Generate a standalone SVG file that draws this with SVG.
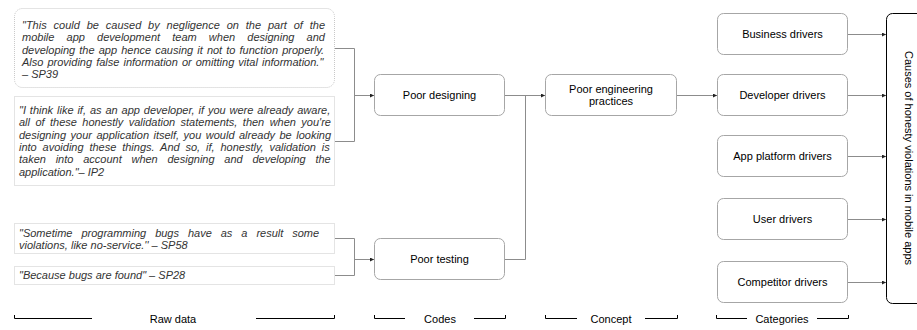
<svg xmlns="http://www.w3.org/2000/svg" width="917" height="330" viewBox="0 0 917 330">
<defs>
<style>
.quote{fill:#fff;stroke:#c8c8c8;stroke-width:1;stroke-dasharray:1 1}
.qt{font-family:"Liberation Sans",Arial,sans-serif;font-size:11px;font-style:italic;fill:#333}
.node{fill:#fff;stroke:#a6a6a6;stroke-width:1}
.nt{font-family:"Liberation Sans",Arial,sans-serif;font-size:11px;fill:#000;text-anchor:middle}
.conn{fill:none;stroke:#8c8c8c;stroke-width:1}
.brk{fill:none;stroke:#000;stroke-width:1}
.lbl{font-family:"Liberation Sans",Arial,sans-serif;font-size:11px;fill:#000;text-anchor:middle}
</style>
<marker id="arr" viewBox="0 0 6 6" refX="6" refY="3" markerWidth="4" markerHeight="4" markerUnits="userSpaceOnUse" orient="auto">
<path d="M0,0 L6,3 L0,6 z" fill="#222"/>
</marker>
</defs>
<rect width="917" height="330" fill="#fff"/>

<g id="q1">
<rect class="quote" x="14.5" y="8.5" width="320" height="79" rx="8"/>
<text class="qt">
<tspan x="22" y="29" style="word-spacing:3.8px">"This could be caused by negligence on the part of the</tspan>
<tspan x="22" y="41.3" style="word-spacing:9.1px">mobile app development team when designing and</tspan>
<tspan x="22" y="53.6" style="word-spacing:1.05px">developing the app hence causing it not to function properly.</tspan>
<tspan x="22" y="65.9" style="word-spacing:1px">Also providing false information or omitting vital information."</tspan>
<tspan x="22" y="78.2">– SP39</tspan>
</text>
</g>

<g id="q2">
<rect class="quote" x="14.5" y="96.5" width="320" height="89"/>
<text class="qt">
<tspan x="19" y="114" style="word-spacing:0.85px">"I think like if, as an app developer, if you were already aware,</tspan>
<tspan x="19" y="126.3" style="word-spacing:2.35px">all of these honestly validation statements, then when you're</tspan>
<tspan x="19" y="138.6" style="word-spacing:1.4px">designing your application itself, you would already be looking</tspan>
<tspan x="19" y="150.9" style="word-spacing:2.8px">into avoiding these things. And so, if, honestly, validation is</tspan>
<tspan x="19" y="163.2" style="word-spacing:6.7px">taken into account when designing and developing the</tspan>
<tspan x="19" y="175.5">application."– IP2</tspan>
</text>
</g>

<g id="q3">
<rect class="quote" x="14.5" y="223.5" width="320" height="30"/>
<text class="qt">
<tspan x="19" y="237" style="word-spacing:5.9px">"Sometime programming bugs have as a result some</tspan>
<tspan x="19" y="249.3">violations, like no-service.'' – SP58</tspan>
</text>
</g>

<g id="q4">
<rect class="quote" x="14.5" y="266.5" width="320" height="18"/>
<text class="qt" x="19" y="279">"Because bugs are found" – SP28</text>
</g>

<g id="poor-designing">
<rect class="node" x="374.5" y="74.5" width="130" height="41" rx="6"/>
<text class="nt" x="439.5" y="99">Poor designing</text>
</g>

<g id="poor-testing">
<rect class="node" x="374.5" y="238.5" width="130" height="41" rx="6"/>
<text class="nt" x="439.5" y="263">Poor testing</text>
</g>

<g id="poor-engineering">
<rect class="node" x="545.5" y="74.5" width="131" height="41" rx="6"/>
<text class="nt"><tspan x="611" y="93">Poor engineering</tspan><tspan x="611" y="104.5">practices</tspan></text>
</g>

<g id="business">
<rect class="node" x="717.5" y="13.5" width="130" height="41" rx="6"/>
<text class="nt" x="782.5" y="38">Business drivers</text>
</g>
<g id="developer">
<rect class="node" x="717.5" y="74.5" width="130" height="41" rx="6"/>
<text class="nt" x="782.5" y="99">Developer drivers</text>
</g>
<g id="app-platform">
<rect class="node" x="717.5" y="135.5" width="130" height="41" rx="6"/>
<text class="nt" x="782.5" y="160">App platform drivers</text>
</g>
<g id="user">
<rect class="node" x="717.5" y="198.5" width="130" height="41" rx="6"/>
<text class="nt" x="782.5" y="223">User drivers</text>
</g>
<g id="competitor">
<rect class="node" x="717.5" y="261.5" width="130" height="41" rx="6"/>
<text class="nt" x="782.5" y="286">Competitor drivers</text>
</g>

<g id="causes">
<rect x="886.5" y="13.5" width="60" height="290" rx="6" fill="#fff" stroke="#000" stroke-width="1"/>
<text class="nt" transform="translate(904.5,158) rotate(90)" x="0" y="0">Causes of honesty violations in mobile apps</text>
</g>

<g id="connectors">
<path class="conn" d="M335,48.5 H354.5 V141.5 H335"/>
<path class="conn" d="M354.5,95.5 H374" marker-end="url(#arr)"/>
<path class="conn" d="M335,238.5 H354.5 V275.5 H335"/>
<path class="conn" d="M354.5,259.5 H374" marker-end="url(#arr)"/>
<path class="conn" d="M505,95.5 H545" marker-end="url(#arr)"/>
<path class="conn" d="M505,259.5 H525.5 V95.5"/>
<path class="conn" d="M677,95.5 H717" marker-end="url(#arr)"/>
<path class="conn" d="M848,34.5 H886" marker-end="url(#arr)"/>
<path class="conn" d="M848,95.5 H886" marker-end="url(#arr)"/>
<path class="conn" d="M848,156.5 H886" marker-end="url(#arr)"/>
<path class="conn" d="M848,219.5 H886" marker-end="url(#arr)"/>
<path class="conn" d="M848,282.5 H886" marker-end="url(#arr)"/>
</g>

<g id="legend">
<path class="brk" d="M14.5,315 V318.5 H92"/>
<path class="brk" d="M256,318.5 H334.5 V315"/>
<text class="lbl" x="173" y="322.5">Raw data</text>
<path class="brk" d="M374.5,315 V318.5 H405"/>
<path class="brk" d="M474,318.5 H505.5 V315"/>
<text class="lbl" x="440" y="322.5">Codes</text>
<path class="brk" d="M545.5,315 V318.5 H577"/>
<path class="brk" d="M645,318.5 H677.5 V315"/>
<text class="lbl" x="611" y="322.5">Concept</text>
<path class="brk" d="M716.5,315 V318.5 H747"/>
<path class="brk" d="M817,318.5 H848.5 V315"/>
<text class="lbl" x="782" y="322.5">Categories</text>
</g>
</svg>
